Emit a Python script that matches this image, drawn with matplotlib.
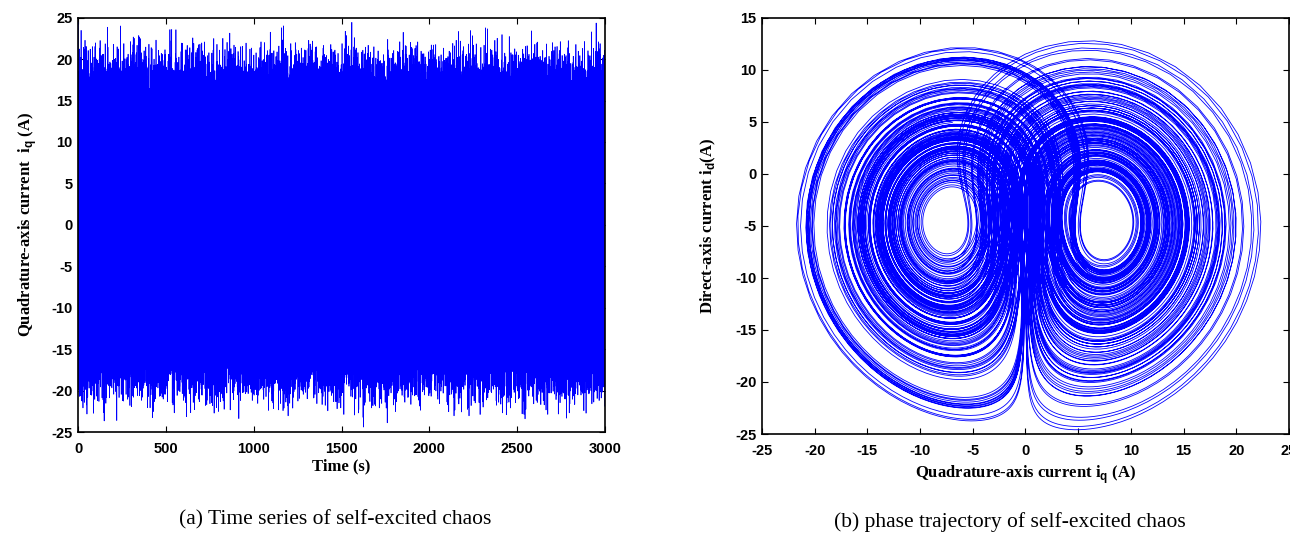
import numpy as np
import matplotlib
matplotlib.use("Agg")
import matplotlib.pyplot as plt

# PMSM model (Lorenz form): w' = sigma(iq - w), iq' = -iq - w*z + rho*w, z' = -beta*z + w*iq
# the chaotic curves cannot be read point by point from the picture,
# so they come from integrating the model with these parameters
sigma = 10.0
rho = 27.0
beta = 2.0
id_offset = 30.5          # i_d = z - id_offset
state0 = [1.0, 2.0, 3.0]  # w, iq, z
time_scale = 5.0          # model time units per second
t_end = 3000.0            # s
dt_series = 0.02
dt_phase = 0.01
phase_window = [20.0, 240.0]   # model time shown in the phase plot

time_ticks = [0, 500, 1000, 1500, 2000, 2500, 3000]
iq_ticks = [-25, -20, -15, -10, -5, 0, 5, 10, 15, 20, 25]
id_ticks = [-25, -20, -15, -10, -5, 0, 5, 10, 15]

caption_a = "(a) Time series of self-excited chaos"
caption_b = "(b) phase trajectory of self-excited chaos"


def integrate(state, h, n):
    # RK4, returns iq and z
    iq_out = np.empty(n + 1)
    z_out = np.empty(n + 1)
    w, iq, z = state
    iq_out[0] = iq
    z_out[0] = z
    s, r, b = sigma, rho, beta
    for k in range(n):
        a1 = s * (iq - w); b1 = -iq - w * z + r * w; c1 = -b * z + w * iq
        w2 = w + h / 2 * a1; q2 = iq + h / 2 * b1; z2 = z + h / 2 * c1
        a2 = s * (q2 - w2); b2 = -q2 - w2 * z2 + r * w2; c2 = -b * z2 + w2 * q2
        w3 = w + h / 2 * a2; q3 = iq + h / 2 * b2; z3 = z + h / 2 * c2
        a3 = s * (q3 - w3); b3 = -q3 - w3 * z3 + r * w3; c3 = -b * z3 + w3 * q3
        w4 = w + h * a3; q4 = iq + h * b3; z4 = z + h * c3
        a4 = s * (q4 - w4); b4 = -q4 - w4 * z4 + r * w4; c4 = -b * z4 + w4 * q4
        w += h / 6 * (a1 + 2 * a2 + 2 * a3 + a4)
        iq += h / 6 * (b1 + 2 * b2 + 2 * b3 + b4)
        z += h / 6 * (c1 + 2 * c2 + 2 * c3 + c4)
        iq_out[k + 1] = iq
        z_out[k + 1] = z
    return iq_out, z_out


# long run for the time series
n_series = int(t_end * time_scale / dt_series)
iq_series, _ = integrate(state0, dt_series, n_series)
t_series = np.arange(n_series + 1) * dt_series / time_scale

# finer run for the phase trajectory
n_phase = int(round(phase_window[1] / dt_phase))
iq_phase, z_phase = integrate(state0, dt_phase, n_phase)
t_phase = np.arange(n_phase + 1) * dt_phase
m = t_phase >= phase_window[0]
iq_phase = iq_phase[m]
id_phase = z_phase[m] - id_offset

plt.rcParams['axes.unicode_minus'] = False
plt.rcParams['mathtext.fontset'] = 'custom'
plt.rcParams['mathtext.bf'] = 'Liberation Sans:bold'
plt.rcParams['mathtext.rm'] = 'Liberation Sans:bold'
tick_font = dict(family='Liberation Sans', weight='bold', size=10.5)
label_font = dict(family='Liberation Serif', weight='bold', size=12)

fig = plt.figure(figsize=(12.9, 5.43), dpi=100)
ax1 = fig.add_axes([0.0605, 0.2044, 0.4085, 0.763])
ax2 = fig.add_axes([0.5907, 0.2007, 0.4085, 0.767])

# (a) time series
ax1.plot(t_series, iq_series, color='#0000ff', lw=0.5)
ax1.set_xlim(0, 3000)
ax1.set_ylim(-25, 25)
ax1.set_xticks(time_ticks)
ax1.set_yticks(iq_ticks)
ax1.set_xlabel("Time (s)", **label_font, labelpad=2)
ax1.set_ylabel(r"Quadrature-axis current  i$_{\mathbf{q}}$ (A)", **label_font, labelpad=9)

# (b) phase trajectory
ax2.plot(iq_phase, id_phase, color='#0000ff', lw=0.6)
ax2.set_xlim(-25, 25)
ax2.set_ylim(-25, 15)
ax2.set_xticks(iq_ticks)
ax2.set_yticks(id_ticks)
ax2.set_xlabel(r"Quadrature-axis current i$_{\mathbf{q}}$ (A)", **label_font, labelpad=4)
ax2.set_ylabel(r"Direct-axis current i$_{\mathbf{d}}$(A)", **label_font, labelpad=12)

for ax in (ax1, ax2):
    ax.tick_params(direction='in', top=True, right=True, length=4, width=0.8)
    ax.tick_params(axis='x', pad=7)
    ax.tick_params(axis='y', pad=4)
    for lab in ax.get_xticklabels() + ax.get_yticklabels():
        lab.set_fontproperties(matplotlib.font_manager.FontProperties(**tick_font))
    for sp in ax.spines.values():
        sp.set_linewidth(1.2)

fig.text(0.26, 0.042, caption_a, family='Liberation Serif', size=15.5, ha='center', va='center')
fig.text(0.783, 0.038, caption_b, family='Liberation Serif', size=15.5, ha='center', va='center')

fig.savefig("out.png", dpi=100)
